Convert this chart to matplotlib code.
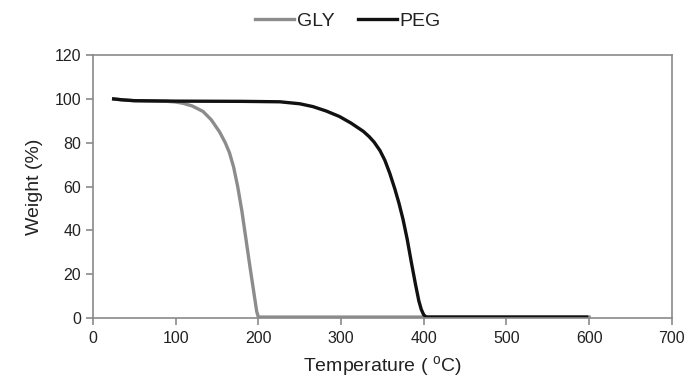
import matplotlib
matplotlib.use("Agg")
import matplotlib.pyplot as plt

plt.rcParams['font.family'] = ['Liberation Sans', 'DejaVu Sans']

gly_temp = [25, 35, 50, 90, 100, 109, 120, 133, 143, 153, 160, 165, 170, 175, 180, 185, 190, 195, 198, 200,
            300, 400, 500, 600]
gly_weight = [100, 99.6, 99.2, 98.9, 98.6, 98, 96.8, 94.3, 90.5, 85, 80, 75.5, 69, 60, 49, 36, 23, 10.5, 3, 0.5,
              0.5, 0.5, 0.5, 0.5]

peg_temp = [25, 35, 50, 100, 180, 226, 250, 266, 282, 298, 312, 327, 334, 340, 347, 353, 359, 365, 370, 375,
            380, 385, 390, 394, 397, 400, 403, 500, 597]
peg_weight = [100, 99.6, 99.2, 99, 98.9, 98.7, 97.8, 96.5, 94.5, 92, 89, 85.2, 82.8, 80.3, 76.5, 72, 66, 59, 52.5, 45,
              36, 25.5, 15.5, 8, 4, 1.5, 0.5, 0.5, 0.5]

x_ticks = [0, 100, 200, 300, 400, 500, 600, 700]
y_ticks = [0, 20, 40, 60, 80, 100, 120]

fig = plt.figure(figsize=(6.89, 3.88), dpi=100)
ax = fig.add_axes([0.135, 0.18, 0.84, 0.678])

ax.plot(gly_temp, gly_weight, color='#8c8c8c', lw=2.4, label='GLY', solid_joinstyle='round')
ax.plot(peg_temp, peg_weight, color='#111111', lw=2.4, label='PEG', solid_joinstyle='round')

ax.set_xlim(0, 700)
ax.set_ylim(0, 120)
ax.set_xticks(x_ticks)
ax.set_yticks(y_ticks)

for s in ax.spines.values():
    s.set_color('#8a8a8a')
    s.set_linewidth(1.2)
ax.tick_params(axis='both', colors='#8a8a8a', length=5, width=1.2, labelsize=11.5,
               labelcolor='#222222', direction='out')
ax.tick_params(axis='x', pad=4)

ax.set_xlabel('Temperature ( $^{\\mathregular{o}}$C)', fontsize=14, color='#222222', labelpad=6)
ax.set_ylabel('Weight (%)', fontsize=14, color='#222222', labelpad=8)

leg = fig.legend(loc='center', bbox_to_anchor=(0.505, 0.945), ncol=2, frameon=False,
                 fontsize=14, handlelength=2.0, handletextpad=0.15, columnspacing=1.2,
                 labelcolor='#222222')

fig.savefig('out.png', dpi=100)
